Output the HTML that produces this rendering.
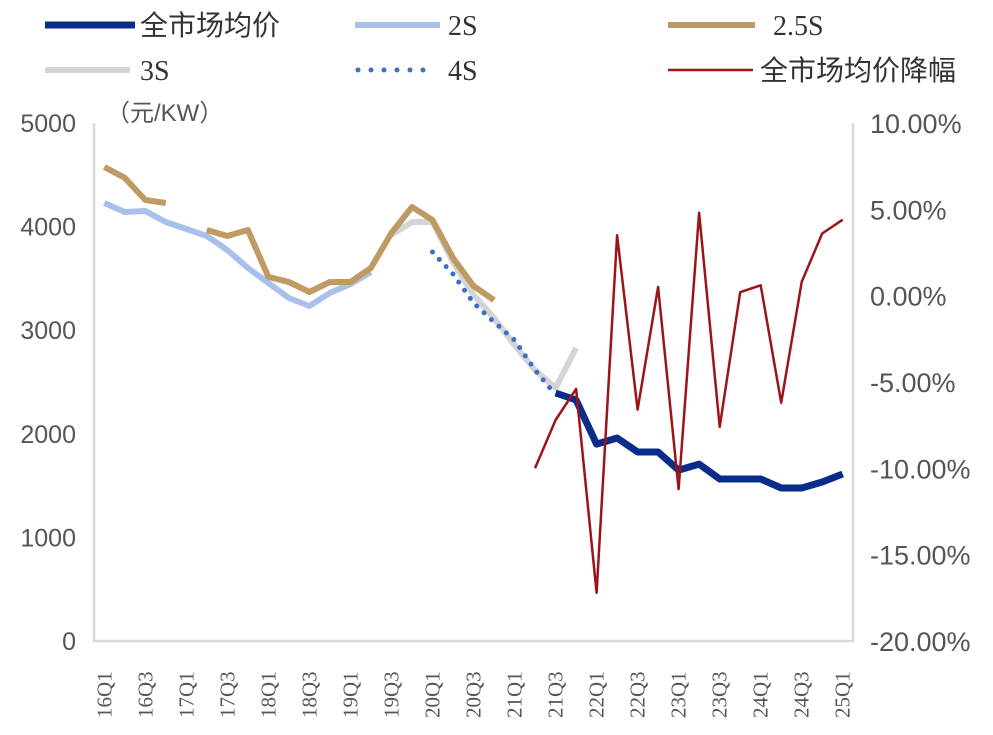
<!DOCTYPE html>
<html><head><meta charset="utf-8">
<style>
body{margin:0;background:#fff;}
svg{display:block;}
.leg{font-family:"Liberation Serif","Noto Sans CJK SC",serif;font-size:28px;fill:#333;}
.yt{font-family:"Liberation Sans",sans-serif;font-size:25px;fill:#555;}
.yr{font-family:"Liberation Sans",sans-serif;font-size:27px;fill:#555;}
.xt{font-family:"Liberation Serif",serif;font-size:21px;fill:#555;}
</style></head>
<body>
<svg id="chart" width="993" height="735">
<g>
 <line x1="45" y1="25" x2="135" y2="25" stroke="#0a2d8c" stroke-width="7"/>
 <text class="leg" x="140" y="35">全市场均价</text>
 <line x1="355" y1="25" x2="440" y2="25" stroke="#a9c0ea" stroke-width="6"/>
 <text class="leg" x="448" y="35">2S</text>
 <line x1="668" y1="25" x2="755" y2="25" stroke="#bf9b63" stroke-width="6"/>
 <text class="leg" x="773" y="35">2.5S</text>
 <line x1="45" y1="70" x2="130" y2="70" stroke="#d4d4d4" stroke-width="6"/>
 <text class="leg" x="140" y="80">3S</text>
 <line x1="358" y1="70" x2="432" y2="70" stroke="#3a6fc4" stroke-width="5" stroke-dasharray="0 13" stroke-linecap="round"/>
 <text class="leg" x="448" y="80">4S</text>
 <line x1="668" y1="70" x2="753" y2="70" stroke="#9b1518" stroke-width="2.5"/>
 <text class="leg" x="760" y="80">全市场均价降幅</text>
</g>
<text class="yt" x="106" y="121" style="font-family:'Liberation Sans','Noto Sans CJK SC',sans-serif;font-size:24px">（元/KW）</text>
<g id="axes"></g>
<g id="series"></g>
</svg>
<script>
const categories=["16Q1","16Q2","16Q3","16Q4","17Q1","17Q2","17Q3","17Q4","18Q1","18Q2","18Q3","18Q4","19Q1","19Q2","19Q3","19Q4","20Q1","20Q2","20Q3","20Q4","21Q1","21Q2","21Q3","21Q4","22Q1","22Q2","22Q3","22Q4","23Q1","23Q2","23Q3","23Q4","24Q1","24Q2","24Q3","24Q4","25Q1"];
const N=null;
const avgPrice=[N,N,N,N,N,N,N,N,N,N,N,N,N,N,N,N,N,N,N,N,N,N,2394,2326,1901,1959,1824,1824,1650,1708,1564,1564,1564,1477,1477,1535,1612];
const s2=[4228,4141,4151,4044,3977,3909,3774,3600,3455,3311,3234,3359,3446,3562,N,N,N,N,N,N,N,N,N,N,N,N,N,N,N,N,N,N,N,N,N,N,N];
const s25a=[4575,4470,4257,4228,N,3967,3909,3967,3514,3465,3369,3465,3465,3600,3938,4189,4064,3697,3427,3291,N,N,N,N,N,N,N,N,N,N,N,N,N,N,N,N,N];
const s3=[N,N,N,N,N,N,N,N,N,N,N,N,N,N,3919,4044,4044,3658,3340,3118,2857,2616,2442,2828,N,N,N,N,N,N,N,N,N,N,N,N,N];
const s4=[N,N,N,N,N,N,N,N,N,N,N,N,N,N,N,N,3755,3542,3263,3079,2905,2616,2375,N,N,N,N,N,N,N,N,N,N,N,N,N,N];
const decline=[N,N,N,N,N,N,N,N,N,N,N,N,N,N,N,N,N,N,N,N,N,-10.0,-7.2,-5.4,-17.2,3.5,-6.6,0.5,-11.2,4.8,-7.6,0.2,0.6,-6.2,0.8,3.6,4.4];
const leftTicks=[0,1000,2000,3000,4000,5000];
const rightTicks=[-20,-15,-10,-5,0,5,10];

const NS="http://www.w3.org/2000/svg";
const X0=94,X1=853,Y0=641,Y1=123;
const xs=i=>X0+(X1-X0)/categories.length*(i+0.5);
const yL=v=>Y0-(v/5000)*(Y0-Y1);
const yR=v=>Y0-((v+20)/30)*(Y0-Y1);
const axes=document.getElementById('axes'),ser=document.getElementById('series');
function mk(tag,attrs,parent){const e=document.createElementNS(NS,tag);for(const k in attrs)e.setAttribute(k,attrs[k]);parent.appendChild(e);return e;}
let a=mk('path',{d:`M${X0},${Y1}V${Y0}H${X1}V${Y1}`,fill:'none',stroke:'#d9d9d9','stroke-width':2.5},axes);


leftTicks.forEach(v=>{const t=mk('text',{class:'yt',x:76,y:yL(v)+9,'text-anchor':'end'},axes);t.textContent=v;

});
rightTicks.forEach(v=>{const t=mk('text',{class:'yr',x:870,y:yR(v)+10},axes);t.textContent=v.toFixed(2)+'%';

});
categories.forEach((c,i)=>{if(i%2)return;const x=xs(i);const t=mk('text',{class:'xt',transform:`translate(${x+7},718) rotate(-90)`},axes);t.textContent=c;

});
function path(arr,yf){let d='',pen=false;arr.forEach((v,i)=>{if(v===null){pen=false;return;}d+=(pen?'L':'M')+xs(i).toFixed(1)+','+yf(v).toFixed(1);pen=true;});return d;}
function line(arr,yf,attrs,name){const p=mk('path',Object.assign({d:path(arr,yf),fill:'none','stroke-linejoin':'round'},attrs),ser);

}
line(s2,yL,{stroke:'#a9c0ea','stroke-width':6},'series-2s');
line(s3,yL,{stroke:'#d4d4d4','stroke-width':6},'series-3s');
line(s25a,yL,{stroke:'#bf9b63','stroke-width':6},'series-2-5s');
line(s4,yL,{stroke:'#3a6fc4','stroke-width':5,'stroke-dasharray':'0 10','stroke-linecap':'round'},'series-4s');
line(avgPrice,yL,{stroke:'#0a2d8c','stroke-width':7},'series-avg-price');
line(decline,yR,{stroke:'#9b1518','stroke-width':2.5},'series-decline');
</script>
</body></html>
